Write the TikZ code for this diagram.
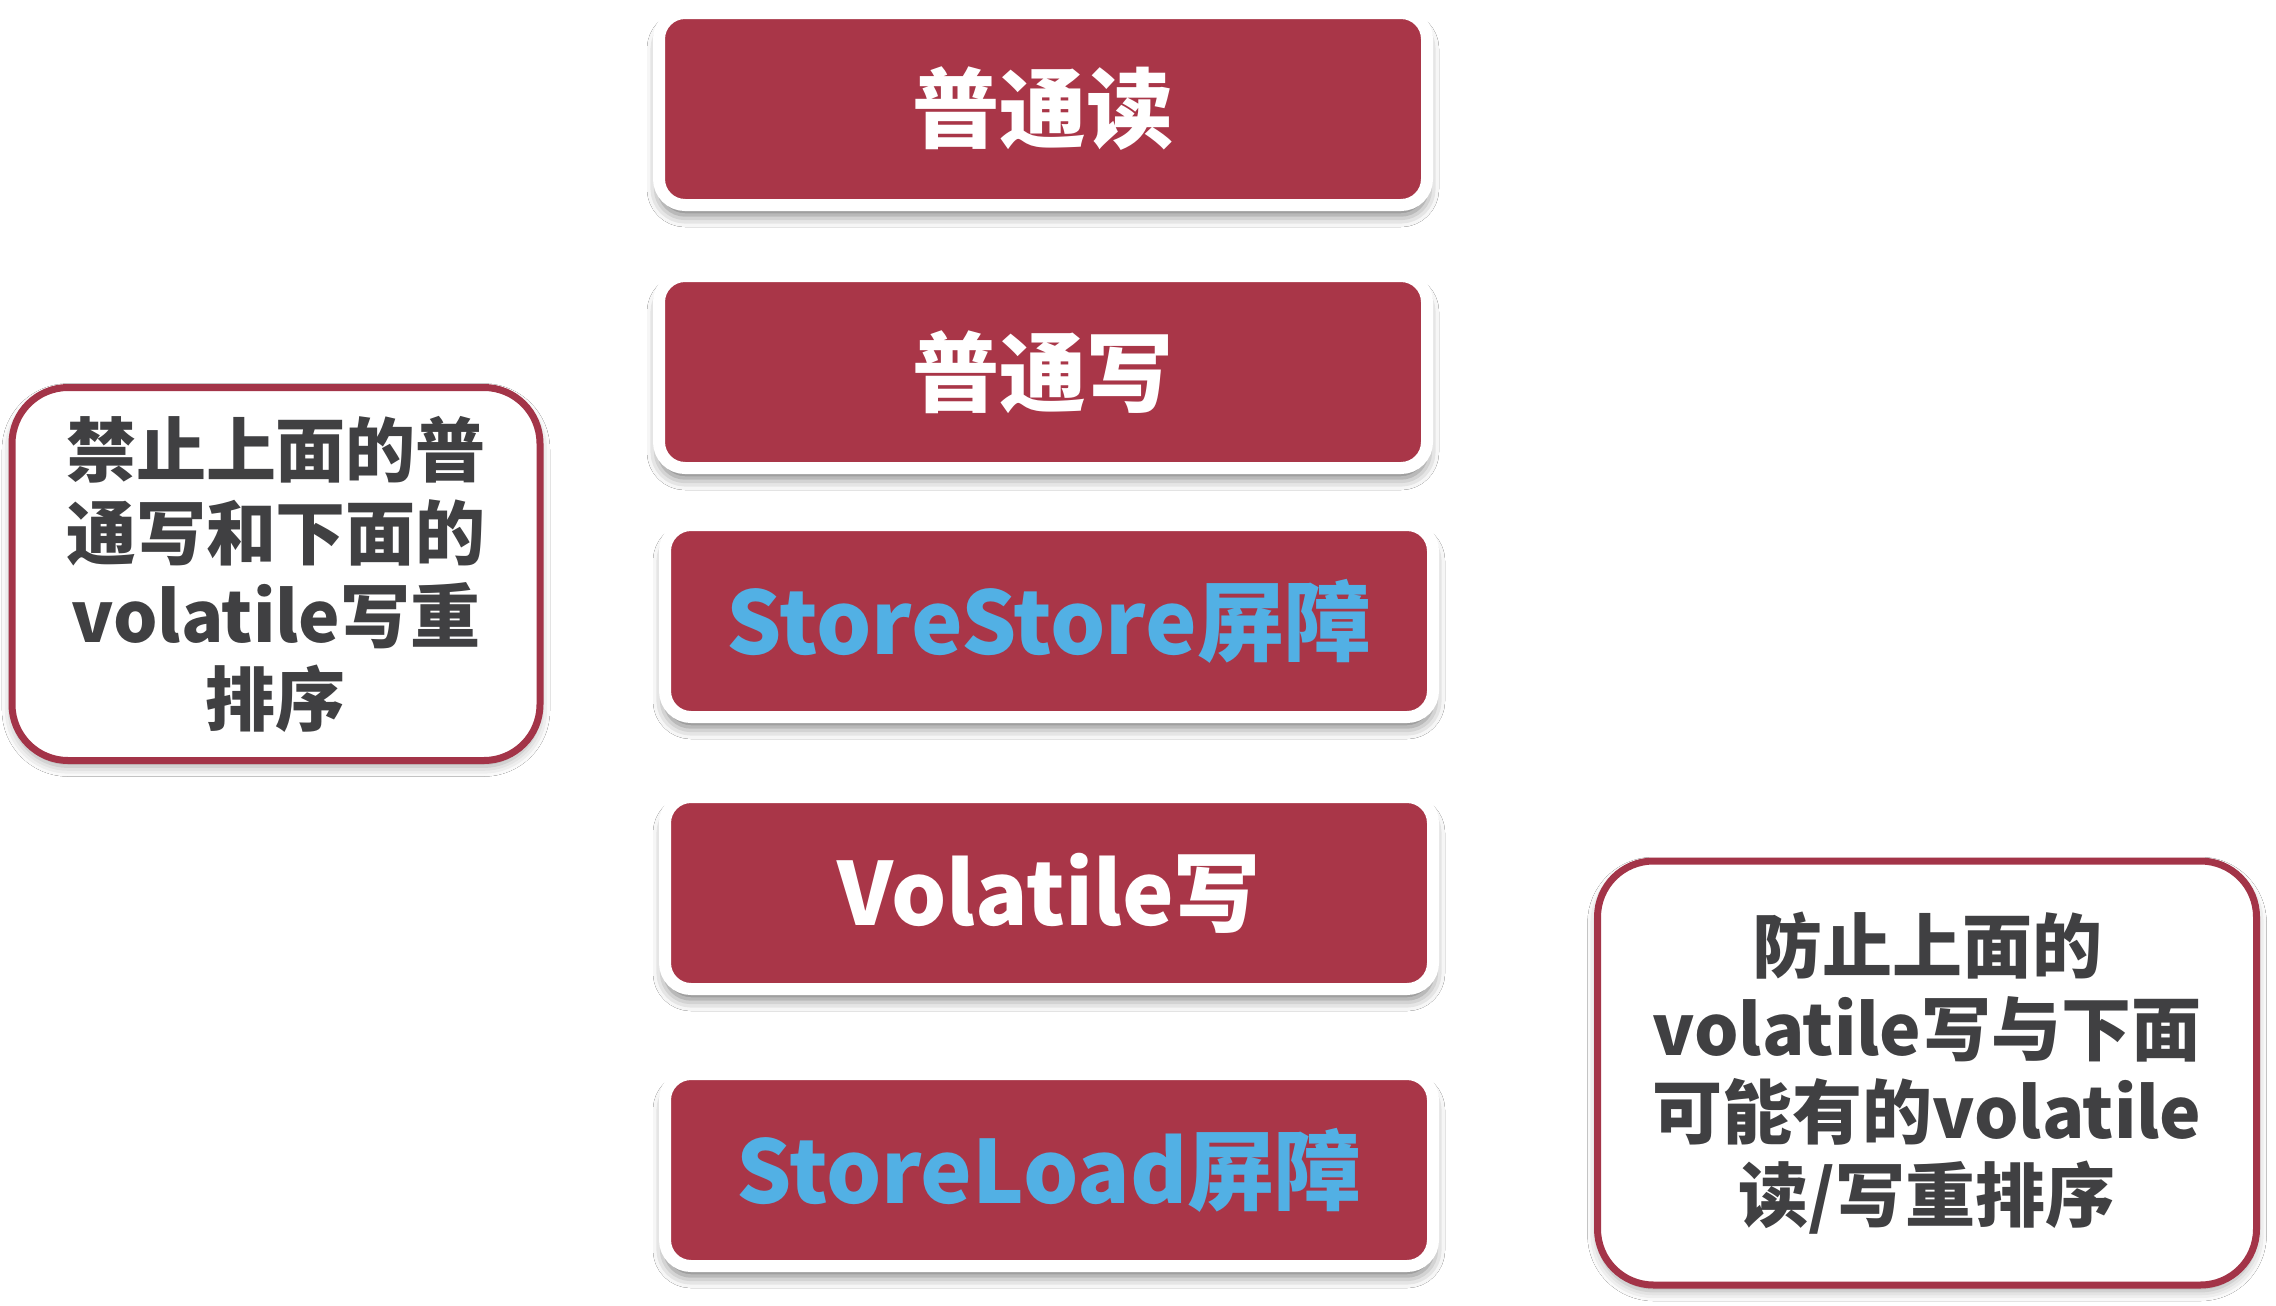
\documentclass[tikz,border=0pt]{standalone}
\usepackage{fontspec}
\newfontfamily\cjk{Noto Sans CJK SC}
\usetikzlibrary{shadows.blur}
\definecolor{boxred}{RGB}{169,54,72}
\definecolor{barrierblue}{RGB}{82,176,228}
\definecolor{notegray}{RGB}{64,64,66}
\definecolor{notered}{RGB}{163,52,72}
\begin{document}
\begin{tikzpicture}[x=0.5pt,y=-0.5pt,
  opbox/.style={rectangle, rounded corners=13pt, fill=boxred, draw=white,
    line width=6pt, minimum width=384pt, minimum height=96pt, inner sep=0pt,
    blur shadow={shadow xshift=0pt, shadow yshift=-5pt, shadow blur radius=6pt, shadow opacity=55},
    font=\cjk\bfseries\fontsize{43.5pt}{50pt}\selectfont, text=white},
  barrier/.style={opbox, text=barrierblue},
  notebox/.style={rectangle, rounded corners=28pt, fill=white, draw=notered,
    line width=3.5pt, inner sep=0pt, align=center, text=notegray,
    blur shadow={shadow xshift=0pt, shadow yshift=-3pt, shadow blur radius=5pt, shadow opacity=35},
    font=\cjk\bfseries\fontsize{35pt}{41.5pt}\selectfont}]
  % canvas
  \path[fill=white] (0,0) rectangle (2276,1306);
  \useasboundingbox (0,0) rectangle (2276,1306);

  % instruction sequence
  \node[opbox]   (read)   at (1043,109)  {普通读};
  \node[opbox]   (write)  at (1043,372)  {普通写};
  \node[barrier] (ss)     at (1049,621)  {StoreStore屏障};
  \node[opbox]   (vwrite) at (1049,893)  {Volatile写};
  \node[barrier] (sl)     at (1049,1170) {StoreLoad屏障};

  % explanatory notes
  \node[notebox, minimum width=264pt, minimum height=186.5pt] (noteL) at (276,574)
    {禁止上面的普\\通写和下面的\\volatile写重\\排序};
  \node[notebox, minimum width=329.5pt, minimum height=212pt] (noteR) at (1927,1073)
    {防止上面的\\volatile写与下面\\可能有的volatile\\读/写重排序};
\end{tikzpicture}
\end{document}
